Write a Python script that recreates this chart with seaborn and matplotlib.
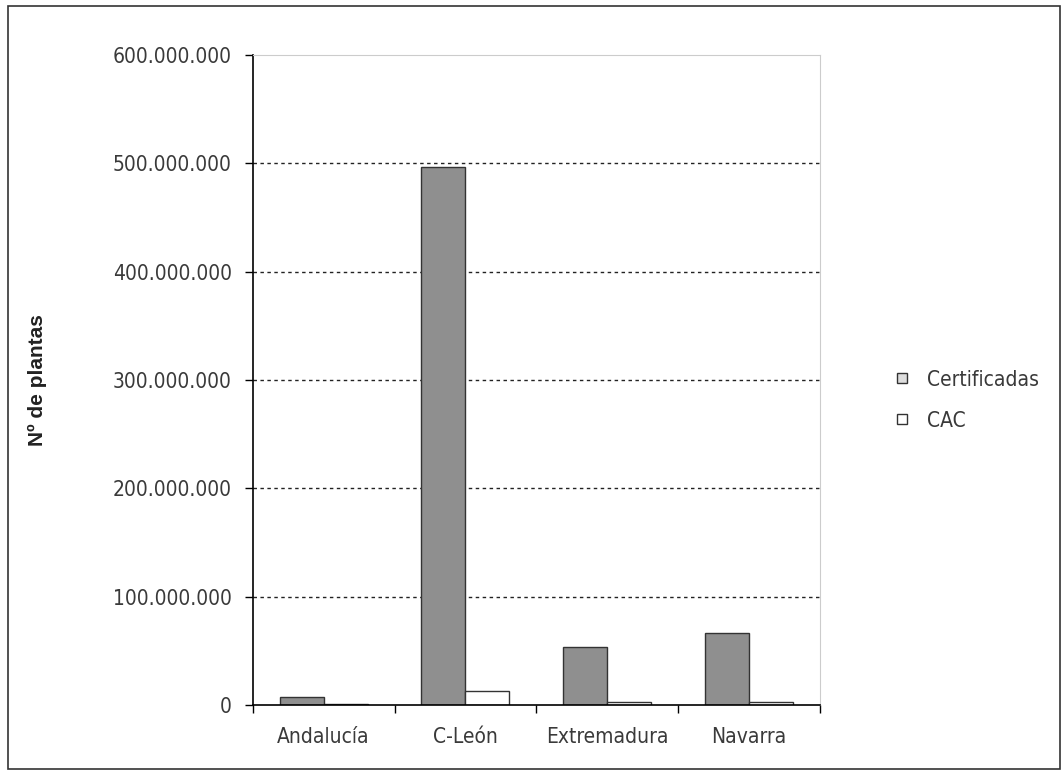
import pandas as pd
import numpy as np
import matplotlib.pyplot as plt
import seaborn as sns
from matplotlib.lines import Line2D
from matplotlib.patches import Rectangle
from matplotlib.ticker import FuncFormatter

# Data
regiones = ['Andalucía', 'C-León', 'Extremadura', 'Navarra']
certificadas = [7000000, 497000000, 53500000, 66500000]
cac = [500000, 13000000, 2500000, 2500000]
series = ['Certificadas', 'CAC']

df = pd.DataFrame({
    'region': regiones * 2,
    'serie': [series[0]] * 4 + [series[1]] * 4,
    'plantas': certificadas + cac,
})

sns.set_style('white')
plt.rcParams['font.family'] = ['DejaVu Sans']
plt.rcParams['font.stretch'] = 'condensed'

fig = plt.figure(figsize=(10.62, 7.77), dpi=100)
ax = fig.add_axes([0.238, 0.0927, 0.534, 0.8365])

sns.barplot(data=df, x='region', y='plantas', hue='serie', ax=ax,
            palette={'Certificadas': '#8f8f8f', 'CAC': 'white'},
            edgecolor='#333333', linewidth=1.0, width=0.62, legend=False)

ax.set_ylim(0, 600000000)
ax.set_xlim(-0.5, 3.5)
ax.set_yticks(np.arange(0, 600000001, 100000000))
ax.yaxis.set_major_formatter(FuncFormatter(lambda v, p: f'{int(v):,}'.replace(',', '.')))
for yv in range(100000000, 600000000, 100000000):
    ax.axhline(yv, color='#222222', linestyle=(0, (2.5, 2.5)), linewidth=1.0, zorder=0)

# category ticks at boundaries, labels at centres
ax.set_xticks(np.arange(-0.5, 4, 1))
ax.set_xticklabels([])
ax.set_xticks(range(len(regiones)), minor=True)
ax.set_xticklabels(regiones, minor=True)
ax.tick_params(axis='x', which='major', direction='out', length=6, width=1, color='black', bottom=True)
ax.tick_params(axis='x', which='minor', length=0, labelsize=15, labelcolor='#3a3a3a', pad=16)
ax.tick_params(axis='y', direction='out', length=6, width=1, color='black', left=True,
               labelsize=15, labelcolor='#3a3a3a', pad=9)

ax.set_xlabel('')
ax.set_ylabel('Nº de plantas', fontsize=15, fontweight='bold', family=['Liberation Sans', 'DejaVu Sans'],
              fontstretch='normal', color='#222222')
ax.yaxis.set_label_coords(-0.362, 0.5)

for s in ['top', 'right']:
    ax.spines[s].set_color('#cccccc')
for s in ['left', 'bottom']:
    ax.spines[s].set_color('black')
    ax.spines[s].set_linewidth(1.2)

handles = [
    Line2D([], [], marker='s', linestyle='none', markersize=7, markerfacecolor='#dddddd',
           markeredgecolor='#333333'),
    Line2D([], [], marker='s', linestyle='none', markersize=7, markerfacecolor='white',
           markeredgecolor='#333333'),
]
fig.legend(handles, series, loc='center left', bbox_to_anchor=(0.812, 0.485), frameon=False,
           fontsize=15, labelspacing=1.0, handletextpad=0.2, labelcolor='#3a3a3a')

# outer frame of the figure
fig.patches.append(Rectangle((0.008, 0.01), 0.99, 0.982, transform=fig.transFigure,
                             fill=False, edgecolor='#333333', linewidth=1.2))

fig.savefig('out.png', dpi=100)
